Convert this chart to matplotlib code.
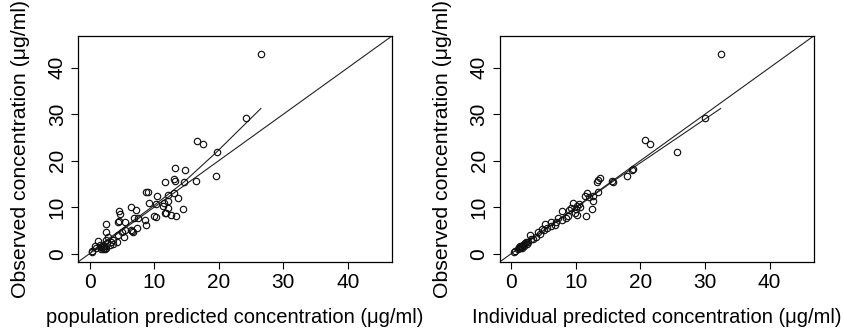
import numpy as np
import matplotlib
matplotlib.use("Agg")
import matplotlib.pyplot as plt

plt.rcParams['font.family'] = ['Liberation Sans', 'DejaVu Sans']

# population predicted vs observed
pop_pred = [26.5, 24.2, 16.6, 17.5, 19.7, 19.6, 13.2, 14.8, 11.6, 13.0,
            13.2, 14.6, 16.5, 8.7, 9.0, 13.0, 12.1, 13.7, 10.4, 9.2,
            10.3, 11.5, 12.1, 11.3, 12.2, 11.9, 11.7, 12.6, 13.4, 14.4,
            10.0, 10.3, 6.4, 7.2, 4.5, 4.7, 6.9, 7.5, 8.5, 8.8,
            7.4, 6.4, 6.7, 5.5, 4.4, 4.6, 2.5, 2.5, 5.5, 5.4,
            4.4, 4.2, 3.6, 2.8, 2.5, 1.3, 0.8, 0.4, 0.3, 2.1,
            2.3, 1.8, 2.6, 2.4, 3.1, 3.6, 1.8, 1.6, 2.7, 5.0,
            6.5, 2.0, 2.2, 1.0, 3.3]
pop_obs = [43.0, 29.1, 24.3, 23.6, 21.9, 16.7, 18.4, 18.0, 15.5, 16.1,
           15.6, 15.3, 15.6, 13.2, 13.2, 13.1, 12.6, 12.0, 12.3, 10.9,
           10.7, 10.9, 11.4, 10.3, 9.8, 8.7, 8.7, 8.4, 8.1, 9.6,
           8.1, 7.9, 10.0, 9.3, 9.1, 8.6, 7.6, 7.6, 7.3, 6.1,
           5.5, 5.1, 4.6, 6.7, 6.7, 7.1, 6.3, 4.7, 5.1, 3.6,
           4.1, 2.5, 3.0, 3.6, 2.9, 2.8, 1.6, 0.6, 0.4, 1.6,
           1.2, 1.0, 1.2, 0.9, 1.9, 2.1, 1.4, 1.8, 2.2, 4.6,
           4.9, 1.1, 1.6, 1.3, 2.5]
pop_smooth_x = [0.3, 5.0, 10.0, 14.6, 19.7, 26.5]
pop_smooth_y = [0.5, 5.3, 10.4, 15.4, 21.9, 31.2]

# individual predicted vs observed
ind_pred = [32.4, 30.0, 20.7, 21.4, 25.6, 18.8, 18.7, 17.9, 15.6, 15.8,
            13.7, 13.2, 13.5, 13.5, 11.7, 12.7, 12.1, 12.6, 11.4, 9.6,
            10.5, 10.2, 10.6, 10.0, 9.8, 10.1, 12.5, 11.5, 7.9, 8.9,
            8.8, 7.9, 7.3, 6.7, 6.1, 5.2, 5.1, 5.5, 4.2, 3.8,
            3.1, 2.9, 2.6, 2.1, 1.8, 1.5, 1.3, 1.0, 0.6, 0.4,
            1.7, 2.0, 1.4, 2.3, 1.2, 4.7, 6.2, 6.9, 8.5, 9.2,
            1.6, 2.4, 3.4, 4.4, 1.9]
ind_obs = [43.0, 29.1, 24.4, 23.6, 21.9, 18.2, 17.9, 16.7, 15.6, 15.5,
           16.2, 15.4, 15.9, 13.2, 13.1, 12.5, 12.1, 11.4, 12.3, 10.8,
           10.7, 10.3, 10.0, 9.6, 8.7, 8.4, 9.6, 8.1, 9.1, 9.3,
           8.1, 7.3, 7.6, 6.1, 6.7, 6.4, 5.1, 5.6, 4.6, 3.6,
           3.1, 4.1, 2.6, 2.3, 1.9, 1.4, 1.2, 1.0, 0.6, 0.4,
           1.7, 2.0, 1.6, 2.4, 1.5, 5.3, 5.9, 6.9, 7.6, 9.8,
           1.3, 2.0, 3.2, 4.2, 1.6]
ind_smooth_x = [0.5, 15.6, 32.4]
ind_smooth_y = [0.5, 15.4, 31.2]

ticks = [0, 10, 20, 30, 40]
lim = (-1.8, 46.8)
ylabel = "Observed concentration (\u03bcg/ml)"
xlabels = ["population predicted concentration (\u03bcg/ml)",
           "Individual predicted concentration (\u03bcg/ml)"]

fig = plt.figure(figsize=(8.44, 3.28), dpi=100)
rects = [[0.0924, 0.2012, 0.372, 0.689], [0.592, 0.2012, 0.372, 0.689]]
panels = [(pop_pred, pop_obs, pop_smooth_x, pop_smooth_y),
          (ind_pred, ind_obs, ind_smooth_x, ind_smooth_y)]

for rect, (px, py, sx, sy), xl in zip(rects, panels, xlabels):
    ax = fig.add_axes(rect)
    ax.plot(lim, lim, color='#222222', lw=0.8)
    ax.plot(sx, sy, color='#222222', lw=0.8)
    ax.plot(px, py, 'o', mfc='none', mec='#111111', ms=4.6, mew=0.85)
    ax.set_xlim(lim)
    ax.set_ylim(lim)
    ax.set_xticks(ticks)
    ax.set_yticks(ticks)
    ax.tick_params(direction='out', length=5, width=0.8, labelsize=15, pad=3)
    plt.setp(ax.get_yticklabels(), rotation=90, va='center')
    for s in ax.spines.values():
        s.set_linewidth(0.9)
    ax.text(-0.183, 0.5, ylabel, transform=ax.transAxes, rotation=90,
            ha='center', va='center', fontsize=15.3)
    ax.text(0.5, -0.245, xl, transform=ax.transAxes,
            ha='center', va='center', fontsize=14.5)

fig.savefig("out.png", dpi=100)
